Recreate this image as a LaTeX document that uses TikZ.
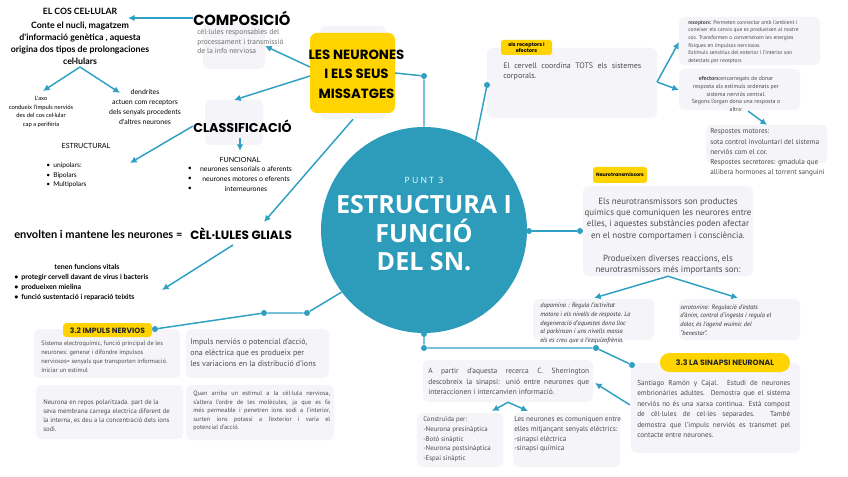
\documentclass[tikz,border=0pt]{standalone}
\usepackage{fontspec}
\setmainfont{PT Sans}
\newfontfamily\pop{Poppins}
\newfontfamily\lat{Lato}
\newfontfamily\opn{Open Sans}
\usetikzlibrary{arrows.meta,fit}
\definecolor{circ}{HTML}{2D9CBA}
\definecolor{lnc}{HTML}{2FA0C1}
\definecolor{yel}{HTML}{FFD400}
\definecolor{gbx}{HTML}{F5F4F8}
\definecolor{txg}{HTML}{4D4D4D}
\definecolor{txl}{HTML}{707070}
\newcommand\fsz[2]{\fontsize{#1}{#2}\selectfont}
\newcommand\jst[2]{\makebox[#1][s]{#2}}
\newcommand\bul[1]{\makebox[#1][l]{\textbullet}}
\tikzset{
  gbox/.style={fill=gbx, rounded corners=4pt, inner sep=0pt, draw=none},
  ybox/.style={fill=yel, rounded corners=3pt, inner sep=0pt, draw=none},
  tx/.style={inner sep=0pt, text=txg},
  lnk/.style={draw=lnc, line width=1.1pt},
  arr/.style={lnk, -{Latex[length=5pt,width=5pt]}},
  dot/.style={circle, fill=lnc, inner sep=0pt, minimum size=4.5pt},
}
\begin{document}
\begin{tikzpicture}[x=0.75pt,y=-0.75pt]
\fill[white] (0,0) rectangle (848,477);
\useasboundingbox (0,0) rectangle (848,477);

% ---------- coordinates for arrow tips ----------
\coordinate (costip) at (128,18);
\coordinate (cosapex) at (80,67);
\coordinate (axotip) at (43,91);
\coordinate (dentip) at (120,93);
\coordinate (nA) at (310,67);
\coordinate (nB) at (310,76);
\coordinate (nC) at (395,73);
\coordinate (comptip) at (265,46);
\coordinate (cltip) at (234,100);
\coordinate (gliatip) at (264,222);
\coordinate (clA) at (240,138);
\coordinate (funtip) at (240,151);
\coordinate (esttip) at (130,163);
\coordinate (gliaA) at (233,245);
\coordinate (tentip) at (162,290);
\coordinate (erapex) at (657,82);
\coordinate (rectip) at (679,42);
\coordinate (eftip) at (679,90);
\coordinate (efA) at (748,111);
\coordinate (resptip) at (767,125);
\coordinate (dopatip) at (594,298);
\coordinate (serotip) at (738,298);
\coordinate (sarrA) at (630,405);
\coordinate (shtip) at (595,383);
\coordinate (contip) at (492,411);
\coordinate (lestip) at (528,411);

% ---------- central circle ----------
\node[circle, fill=circ, minimum size=154.5pt, inner sep=0pt] (sn) at (424,230) {};
\node[inner sep=0pt, text=white, font=\opn\fsz{6.5}{8}\addfontfeature{LetterSpace=25}] (punt) at (424,180) {PUNT 3};
\node[inner sep=0pt, text=white, align=center, font=\opn\bfseries\fsz{18.8}{21.4}] (sntxt) at (424,233.5) {ESTRUCTURA I\\FUNCIÓ\\DEL SN.};

% ---------- boxes ----------
\node[gbox, fit={(203,22)(265,69)}] (compbox) {};
\node[gbox, fit={(320,26)(386,119)}] (neurbg) {};
\node[ybox, rounded corners=5pt, fit={(310,33)(395,113)}] (neur) {};
\node[gbox, fit={(205,100)(263,145)}] (clbox) {};
\node[gbox, fit={(34,329)(180,378)}] (sisbox) {};
\node[ybox, rounded corners=2.5pt, fit={(63,323)(152,337)}] (imp) {};
\node[gbox, fit={(186,329)(329,378)}] (ipbox) {};
\node[gbox, fit={(36,385)(183,439)}] (repbox) {};
\node[gbox, fit={(186,385)(334,440)}] (quanbox) {};
\node[gbox, fit={(487,48)(657,118)}] (cerbox) {};
\node[ybox, rounded corners=2pt, fit={(501,40)(552,55)}] (ertag) {};
\node[gbox, fit={(679,17)(820,65)}] (recbox) {};
\node[gbox, fit={(679,69)(800,110)}] (efbox) {};
\node[gbox, fit={(706,125)(827,163)}] (respbox) {};
\node[ybox, rounded corners=2pt, fit={(593,167)(647,183)}] (nttag) {};
\node[gbox, fit={(583,186)(753,276)}] (ntbox) {};
\node[gbox, fit={(533,299)(654,340)}] (dopbox) {};
\node[gbox, fit={(679,299)(800,340)}] (serbox) {};
\node[gbox, fit={(631,363)(800,453)}] (sbox) {};
\node[ybox, rounded corners=7pt, fit={(660,353)(790,372)}] (stag) {};
\node[gbox, fit={(423,360)(593,402)}] (shbox) {};
\node[gbox, fit={(417,413)(503,467)}] (conbox) {};
\node[gbox, fit={(513,413)(620,467)}] (lesbox) {};

% ---------- dots and lines ----------
\node[dot] (dN) at (424,76) {};
\node[dot] (dER) at (487,85) {};
\node[dot] (dNT1) at (529,231) {};
\node[dot] (dNT2) at (580,231) {};
\node[dot] (d32) at (155,329) {};
\node[dot] (d32b) at (264,313) {};
\node[dot] (d32c) at (307,313) {};
\node[dot] (dB1) at (424,334) {};
\node[dot] (dB2) at (424,348) {};
\node[dot] (dB3) at (596,348) {};
\node[dot] (dB4) at (632,365) {};

\draw[lnk] (nC) -- (dN) -- (sn.north);
\draw[lnk] (sn.60) -- (dER);
\draw[lnk] (dNT1) -- (dNT2);
\draw[lnk] (d32) -- (d32b) -- (d32c) -- (sn.217.5);
\draw[lnk] (dB1) -- (dB2) -- (dB3) -- (dB4);

% ---------- top left ----------
\node[inner sep=0pt, font=\lat\bfseries\fsz{6.5}{9}] (costit) at (80,11) {EL COS CEL·LULAR};
\node[inner sep=0pt, align=center, font=\lat\bfseries\fsz{6.6}{9}] (cos) at (80,43) {Conte el nucli, magatzem\\d'informació genètica , aquesta\\origina dos tipos de prolongaciones\\cel·lulars};
\node[inner sep=0pt, align=center, font=\lat\fsz{4.4}{6.5}] (axo) at (41,112) {L'axo\\condueix l'impuls nerviós\\des del cos cel·lular\\cap a perifèria};
\node[inner sep=0pt, align=center, font=\lat\fsz{5.2}{7.5}] (den) at (145,107) {dendrites\\actuen  com receptors\\dels senyals procedents\\d'altres neurones};
\draw[arr] (cosapex) -- (axotip);
\draw[arr] (cosapex) -- (dentip);

\node[inner sep=0pt, anchor=west, font=\pop\bfseries\fsz{11}{13}] (comp) at (193,18) {COMPOSICIÓ};
\node[inner sep=0pt, text=txl, align=left, anchor=west, font=\fsz{5.6}{7.1}] (comptxt) at (197,41.5) {cèl·lules responsables del\\processament i transmissió\\de la info nerviosa};
\draw[arr] (comp.west) -- (costip);

\node[inner sep=0pt, align=center, font=\pop\bfseries\fsz{10}{14.6}] (neurtxt) at (356.5,74) {LES NEURONES\\I ELS SEUS\\MISSATGES};
\draw[arr] (nA) -- (comptip);
\draw[arr] (nB) -- (cltip);
\draw[arr] (neurbg.south) -- (gliatip);

\node[inner sep=0pt, anchor=west, font=\pop\bfseries\fsz{9.6}{11}] (cla) at (193,126) {CLASSIFICACIÓ};
\draw[arr] (clA) -- (funtip);
\draw[arr] (cla.west) -- (esttip);

\node[inner sep=0pt, font=\lat\fsz{5.3}{7}] (est) at (86,146) {ESTRUCTURAL};
\node[inner sep=0pt, align=left, anchor=west, font=\lat\fsz{5}{7.1}] (estl) at (46,175.5) {\bul{5.3pt}unipolars:\\\bul{5.3pt}Bipolars\\\bul{5.3pt}Multipolars};

\node[inner sep=0pt, font=\lat\fsz{5.3}{7}] (fun) at (240,160) {FUNCIONAL};
\node[inner sep=0pt, align=center, font=\lat\fsz{5.2}{7.5}] (funl) at (246,179) {neurones sensorials o aferents\\neurones motores o eferents\\interneurones};
\node[inner sep=0pt, align=center, font=\lat\fsz{5.2}{7.5}] (funb) at (190,179) {\textbullet\\\textbullet\\\textbullet};

\node[inner sep=0pt, anchor=west, font=\lat\bfseries\fsz{8.3}{9}] (env) at (14,234) {envolten i mantene les neurones =};
\node[inner sep=0pt, anchor=west, font=\pop\bfseries\fsz{9}{10}] (glia) at (190,234) {CÈL·LULES GLIALS};
\draw[arr] (gliaA) -- (tentip);

\node[inner sep=0pt, font=\lat\bfseries\fsz{5.3}{7.5}] (ten) at (87,267) {tenen funcions vitals};
\node[inner sep=0pt, align=left, anchor=west, font=\lat\bfseries\fsz{5.3}{7.5}] (tenl) at (14,287) {\bul{5.3pt}protegir cervell davant de virus i bacteris\\\bul{5.3pt}produeixen mielina\\\bul{5.3pt}funció sustentació i reparació teixits};

% ---------- 3.2 ----------
\node[inner sep=0pt, text=black!85, font=\pop\bfseries\fsz{5.7}{7}] (imptxt) at (107.5,330.5) {3.2 IMPULS NERVIOS};
\node[tx, align=left, anchor=west, font=\fsz{4.7}{6.75}] (sis) at (41,356.5) {Sistema electroquímic, funció principal de les\\neurones: generar i difondre impulsos\\nerviosos= senyals que transporten informació.\\Iniciar un estímul};
\node[tx, align=left, anchor=west, font=\fsz{6}{8.25}] (ip) at (190,353) {Impuls nerviós o potencial d'acció,\\ona elèctrica que es produeix per\\les variacions en la distribució d'ions};
\node[tx, align=left, anchor=west, font=\fsz{5}{6.75}] (rep) at (43,415.5) {Neurona en repos polaritzada. part de la\\seva membrana carrega electrica diferent de\\la interna, es deu a la concentració dels ions\\sodi.};
\node[tx, align=left, anchor=west, font=\fsz{4.7}{6.45}] (quan) at (193,411) {\jst{102.75pt}{Quan arriba un estímul a la cèl·lula nerviosa,}\\\jst{102.75pt}{s'altera l'ordre de les molècules, ja que es fa}\\\jst{102.75pt}{més permeable i penetren ions sodi a l'interior,}\\\jst{102.75pt}{surten ions potassi a l'exterior i varia el}\\potencial d'acció.};

% ---------- receptors / efectors ----------
\node[inner sep=0pt, align=center, font=\pop\bfseries\fsz{3.8}{4.8}] (ertxt) at (526.5,47.5) {els receptors i\\efectors};
\node[tx, align=left, anchor=west, font=\fsz{6}{7.5}] (cer) at (503,71.5) {\jst{103.5pt}{El cervell coordina TOTS els sistemes}\\corporals.};
\draw[arr] (erapex) -- (rectip);
\draw[arr] (erapex) -- (eftip);
\node[tx, align=left, anchor=west, font=\fsz{4.1}{5.7}] (rec) at (688,42) {\textbf{receptors:} Permeten connectar amb l'ambient i\\coneixer els canvis que es produeixen al nostre\\cos. Transformen o converteixen les energies\\físiques en impulsos nerviosos.\\Estímuls sensitius del exterior i l'interior son\\detectats per receptors};
\node[tx, align=center, font=\fsz{4.4}{5.85}] (ef) at (736,94) {\textbf{efectors:}encarregats de donar\\resposta als estímuls ordenats per\\sistema nerviós central.\\Segons l'organ dona una resposta o\\altra:};
\draw[arr] (efA) -- (resptip);
\node[tx, align=left, anchor=west, font=\fsz{5.4}{7.7}] (resp) at (710,152.6) {Respostes motores:\\sota control involuntari del sistema\\nerviós com el cor.\\Respostes secretores: gmadula que\\allibera hormones al torrent sanguini};

% ---------- neurotransmissors ----------
\node[inner sep=0pt, font=\pop\bfseries\fsz{3.6}{4.5}] (nttxt) at (620,175) {Neurotransmissors};
\node[tx, align=center, font=\fsz{6.7}{8.55}] (nt) at (668,236) {Els neurotransmissors son productes\\quimics que comuniquen les neurores entre\\elles, i aquestes substàncies poden afectar\\en el nostre comportamen i consciència.\\[8.55pt]Produeixen diverses reaccions, els\\neurotrasmissors més importants son:};
\draw[arr] (ntbox.south) -- (dopatip);
\draw[arr] (ntbox.south) -- (serotip);
\node[inner sep=0pt, text=black!80, align=left, anchor=west, font=\itshape\fsz{4.8}{6.55}] (dop) at (540,323.5) {dopamina : Regula l'activitat\\motora i els nivells de resposta. La\\degeneració d'aquestes dona lloc\\al parkinson i uns nivells massa\\els es creu que a l'ezquizofrènia.};
\node[inner sep=0pt, text=black!80, align=left, anchor=west, font=\itshape\fsz{4.8}{6.55}] (ser) at (680,320) {serotonina: Regulació d'estats\\d'ànim, control d'ingesta i regula el\\dolor, és l'agend wuímic del\\``benestar''.};

% ---------- 3.3 ----------
\node[inner sep=0pt, text=black!85, font=\pop\bfseries\fsz{5.8}{7}] (stxt) at (725,362.5) {3.3 LA SINAPSI NEURONAL};
\node[tx, align=left, anchor=west, font=\fsz{5.4}{7.9}] (sant) at (637,409) {\jst{114.75pt}{Santiago Ramón y Cajal. Estudi de neurones}\\\jst{114.75pt}{embrionàries adultes. Demostra que el sistema}\\\jst{114.75pt}{nerviós no és una xarxa continua. Està compost}\\\jst{114.75pt}{de cèl·lules de cel·les separades. També}\\\jst{114.75pt}{demostra que l'impuls nerviós es transmet pel}\\contacte entre neurones.};
\draw[arr] (sarrA) -- (shtip);
\node[tx, align=left, anchor=west, font=\fsz{5.6}{7.9}] (sher) at (428,381.5) {\jst{120.75pt}{A partir d'aquesta recerca C. Sherrington}\\\jst{120.75pt}{descobreix la sinapsi: unió entre neurones que}\\interaccionen i intercanvien informació.};
\draw[arr] (shbox.south) -- (contip);
\draw[arr] (shbox.south) -- (lestip);
\node[tx, align=left, anchor=west, font=\fsz{5.1}{7.3}] (con) at (423,439.5) {Construïda per:\\-Neurona presinàptica\\-Botó sinàptic\\-Neurona postsinàptica\\-Espai sinàptic};
\node[tx, align=left, anchor=west, font=\fsz{5.4}{7.3}] (les) at (514,434.5) {Les neurones es comuniquen entre\\elles mitjançant senyals elèctrics:\\-sinapsi elèctrica\\-sinapsi química};
\end{tikzpicture}
\end{document}
